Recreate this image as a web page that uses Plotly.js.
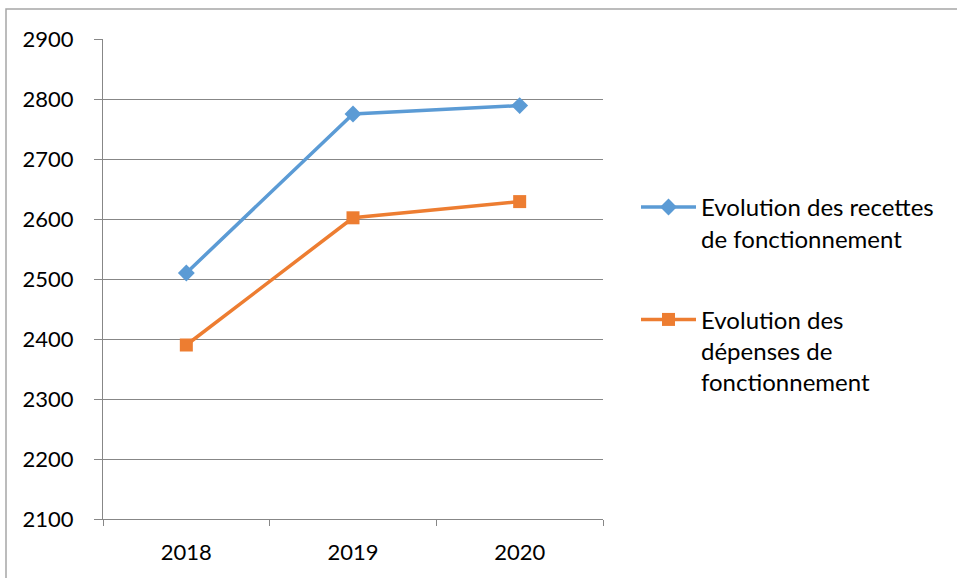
<!DOCTYPE html>
<html>
<head>
<meta charset="utf-8">
<script src="https://cdn.plot.ly/plotly-3.0.1.min.js"></script>
<style>
  html, body { margin: 0; padding: 0; background: #fff; }
  #chart { width: 957px; height: 578px; }
</style>
</head>
<body>
<div id="chart"></div>
<script>
// Budget de fonctionnement, 2018-2020
const years = ['2018', '2019', '2020'];
const recettes = [2510, 2775, 2789];
const depenses = [2390, 2602, 2629];
const yTicks = [2100, 2200, 2300, 2400, 2500, 2600, 2700, 2800, 2900];
const nameRecettes = 'Evolution des recettes<br>de fonctionnement';
const nameDepenses = 'Evolution des<br>dépenses de<br>fonctionnement';

const FONT = 'Lato, "Open Sans", sans-serif';
const GRID = '#878787';

const traces = [
  {
    x: years, y: recettes, name: nameRecettes, type: 'scatter', mode: 'lines+markers',
    legendgroup: 'r',
    line: { color: '#5B9BD5', width: 3.5 },
    marker: { symbol: 'diamond', size: 13, color: '#5B9BD5' }
  },
  {
    x: years, y: depenses, name: nameDepenses, type: 'scatter', mode: 'lines+markers',
    legendgroup: 'd',
    line: { color: '#ED7D31', width: 3.5 },
    marker: { symbol: 'square', size: 13, color: '#ED7D31' }
  }
];

const layout = {
  width: 957, height: 578,
  margin: { l: 103, r: 354, t: 39, b: 59, pad: 0 },
  paper_bgcolor: '#fff', plot_bgcolor: '#fff',
  font: { family: FONT, size: 22, color: '#000' },
  showlegend: true,
  legend: {
    x: 1.066, xanchor: 'left', y: 0.696, yanchor: 'top',
    valign: 'top', tracegroupgap: 47, itemwidth: 55,
    font: { family: FONT, size: 24, color: '#000' },
    bgcolor: 'rgba(0,0,0,0)', borderwidth: 0
  },
  xaxis: {
    type: 'category', range: [-0.5, 2.5],
    tickson: 'boundaries', ticks: 'outside', ticklen: 6, tickcolor: GRID, tickwidth: 1,
    showgrid: false, showline: true, linecolor: GRID, linewidth: 1,
    zeroline: false, ticklabelstandoff: 14,
    tickfont: { family: FONT, size: 22, color: '#000' }
  },
  yaxis: {
    range: [2100, 2900], tickvals: yTicks, ticktext: yTicks.map(String),
    ticks: 'outside', ticklen: 8, tickcolor: GRID, tickwidth: 1,
    showgrid: true, gridcolor: GRID, gridwidth: 1,
    showline: true, linecolor: GRID, linewidth: 1, zeroline: false,
    ticklabelstandoff: 16,
    tickfont: { family: FONT, size: 22, color: '#000' }
  },
  shapes: [
    // chart frame (right and bottom edges fall outside the page)
    { type: 'rect', xref: 'paper', yref: 'paper', x0: -0.194, x1: 1.72, y0: -0.14, y1: 1.0625,
      line: { color: '#A6A6A6', width: 1.5 }, fillcolor: 'rgba(0,0,0,0)', layer: 'below' }
  ]
};

Plotly.newPlot('chart', traces, layout, { displayModeBar: false, staticPlot: true });
</script>
</body>
</html>
